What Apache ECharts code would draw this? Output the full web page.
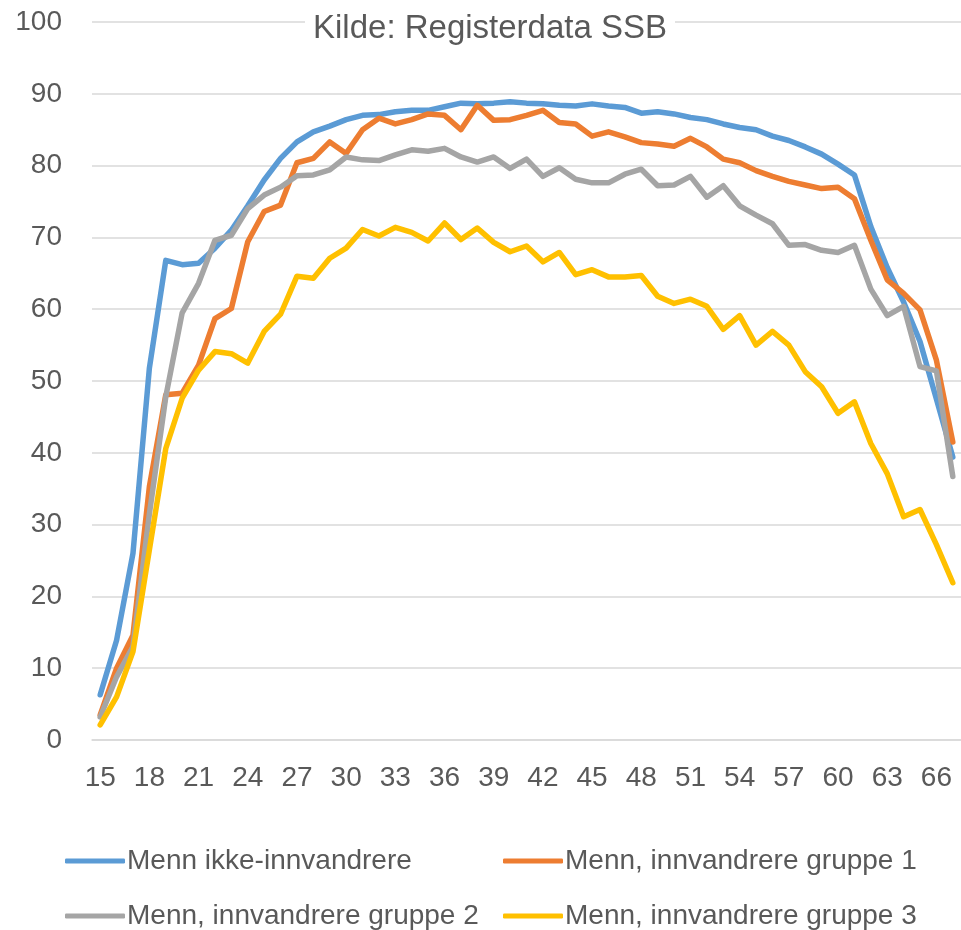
<!DOCTYPE html>
<html>
<head>
<meta charset="utf-8">
<title>Kilde: Registerdata SSB</title>
<script src="https://cdn.jsdelivr.net/npm/echarts@6/dist/echarts.min.js"></script>
<style>
html,body{margin:0;padding:0;background:#fff;}
#main{width:961px;height:930px;}
</style>
</head>
<body>
<div id="main"></div>
<script>
// alder 15-67
var ages = [];
for (var a = 15; a <= 67; a++) ages.push(String(a));

var ikkeInnv = [6.3,13.9,26.0,51.8,66.8,66.2,66.4,68.5,71.0,74.4,78.0,81.0,83.3,84.7,85.5,86.4,87.0,87.1,87.5,87.7,
  87.7,88.2,88.7,88.6,88.7,88.9,88.7,88.6,88.4,88.3,88.6,88.3,88.1,87.3,87.5,87.2,86.7,86.4,85.8,85.3,
  85.0,84.1,83.5,82.6,81.6,80.2,78.7,71.5,65.8,61.0,55.5,47.5,39.4];
var gruppe1 = [3.5,10.0,14.6,35.3,48.1,48.3,52.2,58.7,60.1,69.4,73.6,74.5,80.4,81.0,83.3,81.7,85.0,86.6,85.8,86.4,
  87.2,87.0,85.0,88.4,86.3,86.4,87.0,87.7,86.0,85.8,84.1,84.7,84.0,83.2,83.0,82.7,83.8,82.6,80.9,80.4,
  79.3,78.5,77.8,77.3,76.8,77.0,75.4,69.6,64.1,62.2,59.9,52.9,41.5];
var gruppe2 = [3.2,8.8,13.0,31.5,47.8,59.5,63.6,69.6,70.3,74.0,75.9,77.0,78.6,78.7,79.4,81.2,80.8,80.7,81.5,82.2,
  82.0,82.4,81.2,80.5,81.2,79.6,80.9,78.5,79.7,78.1,77.6,77.6,78.8,79.5,77.2,77.3,78.5,75.6,77.2,74.4,
  73.1,71.9,68.9,69.0,68.2,67.9,68.9,62.8,59.1,60.4,52.0,51.4,36.7];
var gruppe3 = [2.1,6.0,12.3,26.5,40.6,47.6,51.5,54.1,53.8,52.5,56.9,59.3,64.6,64.3,67.1,68.5,71.1,70.2,71.4,70.7,
  69.5,72.0,69.7,71.3,69.3,68.0,68.8,66.6,67.9,64.8,65.5,64.5,64.5,64.7,61.8,60.8,61.4,60.4,57.2,59.1,
  55.0,56.9,55.0,51.3,49.2,45.5,47.1,41.3,37.1,31.1,32.1,27.2,21.9];

var names = ['Menn ikke-innvandrere','Menn, innvandrere gruppe 1','Menn, innvandrere gruppe 2','Menn, innvandrere gruppe 3'];
var colors = ['#5B9BD5','#ED7D31','#A5A5A5','#FFC000'];
var values = [ikkeInnv, gruppe1, gruppe2, gruppe3];

var font = "'Liberation Sans', Arial, sans-serif";
var grey = '#595959';

var series = [];
for (var i = 0; i < names.length; i++) {
  series.push({
    name: names[i],
    type: 'line',
    data: values[i],
    symbol: 'none',
    smooth: false,
    lineStyle: {width: 5.5, color: colors[i], cap: 'round', join: 'round'},
    itemStyle: {color: colors[i]},
    emphasis: {disabled: true}
  });
}

// en legend per post, plassert i to kolonner som i Excel
function legendItem(left, top, name) {
  return {
    left: left, top: top, orient: 'horizontal',
    itemWidth: 60, itemHeight: 5, icon: 'roundRect',
    data: [name],
    textStyle: {fontFamily: font, fontSize: 28, color: grey, padding: [0, 0, 0, -3]}
  };
}

var chart = echarts.init(document.getElementById('main'), null, {renderer: 'canvas'});
chart.setOption({
  animation: false,
  backgroundColor: '#fff',
  color: colors,
  title: {
    text: 'Kilde: Registerdata SSB',
    left: 305, top: 10,
    padding: [2, 8],
    backgroundColor: '#fff',
    textStyle: {fontFamily: font, fontSize: 33, fontWeight: 'normal', color: grey}
  },
  legend: [
    legendItem(60, 842, names[0]),
    legendItem(498, 842, names[1]),
    legendItem(60, 897, names[2]),
    legendItem(498, 897, names[3])
  ],
  grid: {left: 92, right: -7, top: 22, bottom: 190, containLabel: false},
  xAxis: {
    type: 'category',
    data: ages,
    boundaryGap: true,
    axisLine: {show: true, lineStyle: {color: '#d9d9d9', width: 1.5}},
    axisTick: {show: false},
    axisLabel: {interval: 2, margin: 24, fontFamily: font, fontSize: 28, color: grey}
  },
  yAxis: {
    type: 'value',
    min: 0, max: 100, interval: 10,
    axisLine: {show: false},
    axisTick: {show: false},
    splitLine: {lineStyle: {color: '#d9d9d9', width: 1.5}},
    axisLabel: {margin: 30, fontFamily: font, fontSize: 28, color: grey}
  },
  series: series
});
</script>
</body>
</html>
